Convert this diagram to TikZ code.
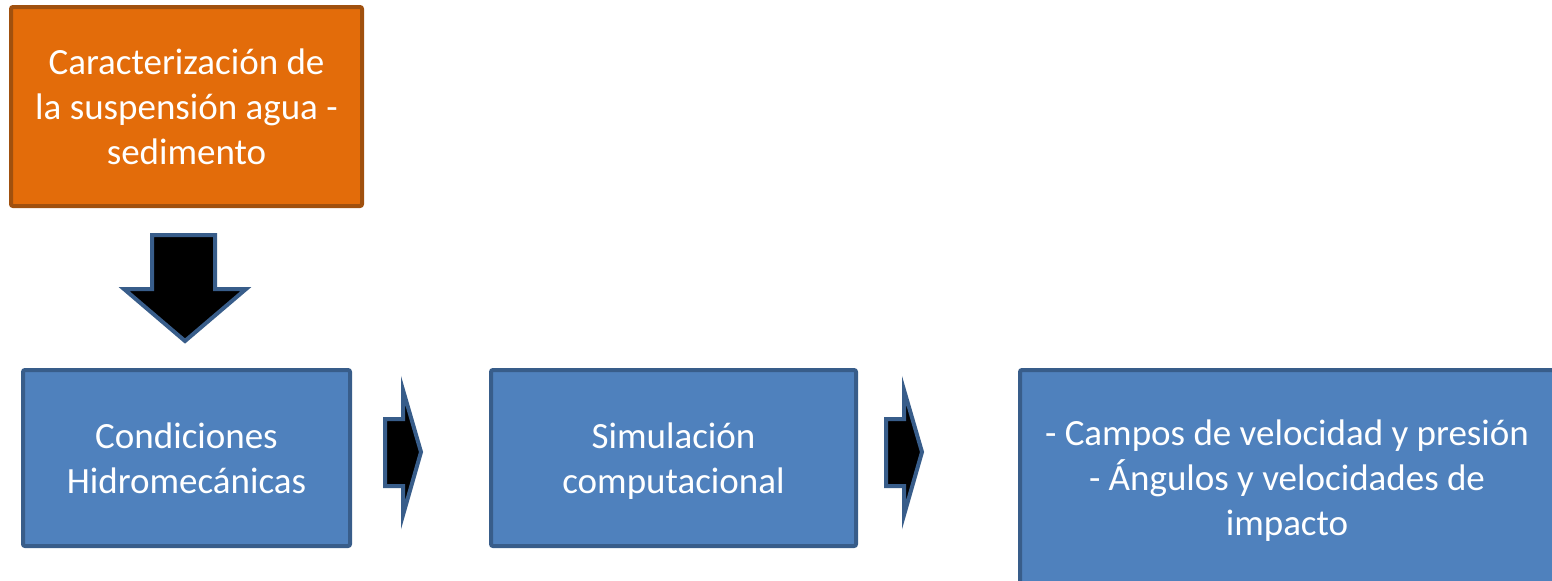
\documentclass[tikz,border=0pt]{standalone}
\usepackage{fontspec}
\setmainfont{Carlito}
\definecolor{orfill}{HTML}{E36C0A}
\definecolor{ordraw}{HTML}{A0500E}
\definecolor{blfill}{HTML}{4F81BD}
\definecolor{bldraw}{HTML}{385D8A}
\begin{document}
\begin{tikzpicture}[x=0.5pt,y=-0.5pt,
  box/.style={draw,line width=2pt,rounded corners=1pt,text=white,align=center,
    font=\fontsize{18.5}{22.5}\selectfont,text depth=0pt},
  orangebox/.style={box,fill=orfill,draw=ordraw},
  bluebox/.style={box,fill=blfill,draw=bldraw},
  blockarrow/.style={fill=black,draw=bldraw,line width=2pt}]
\clip (0,0) rectangle (1552,580);
\node[orangebox,minimum width=175.5pt,minimum height=99.5pt] (C0) at (186.5,106.5) {Caracterización de\\la suspensión agua -\\sedimento};
\node[bluebox,minimum width=163.5pt,minimum height=88pt] (C1) at (186.5,458) {Condiciones\\Hidromecánicas};
\node[bluebox,minimum width=182.5pt,minimum height=88pt] (C2) at (673.5,458) {Simulación\\computacional};
\node[bluebox,minimum width=267pt,minimum height=108pt] (C3) at (1287,478) {- Campos de velocidad y presión\\- Ángulos y velocidades de\\impacto};
% flechas de bloque
\draw[blockarrow] (152,235) -- (215,235) -- (215,289) -- (246,289) -- (185,341) -- (124,289) -- (152,289) -- cycle;
\draw[blockarrow] (385,419) -- (403,419) -- (403,390) -- (421,452) -- (403,515) -- (403,486) -- (385,486) -- cycle;
\draw[blockarrow] (886,419) -- (904,419) -- (904,390) -- (922,452) -- (904,515) -- (904,486) -- (886,486) -- cycle;
\end{tikzpicture}
\end{document}
